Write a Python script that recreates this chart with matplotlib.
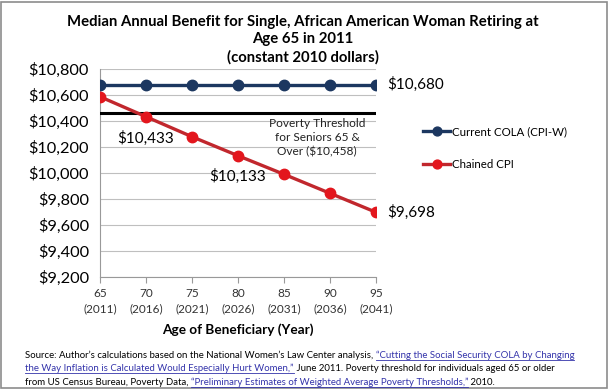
import matplotlib.pyplot as plt
from matplotlib.patches import Rectangle

plt.rcParams['font.family'] = ['Lato', 'DejaVu Sans']

ages = [65, 70, 75, 80, 85, 90, 95]
years = [2011, 2016, 2021, 2026, 2031, 2036, 2041]
current_cola = [10680, 10680, 10680, 10680, 10680, 10680, 10680]
chained_cpi = [10587, 10433, 10279, 10133, 9990, 9844, 9698]
poverty = 10458
yticks = [9200, 9400, 9600, 9800, 10000, 10200, 10400, 10600, 10800]

navy = '#1c3760'
red = '#e3161d'
red_line = '#c1272d'

fig = plt.figure(figsize=(6.09, 3.89), dpi=100)
ax = fig.add_axes([100 / 609, 112 / 389, 276 / 609, 208 / 389])

ax.plot(ages, current_cola, color=navy, lw=2.4, marker='o', ms=7.5,
        mfc=navy, mec=navy, label='Current COLA (CPI-W)', zorder=4)
ax.plot(ages, chained_cpi, color=red_line, lw=2.4, marker='o', ms=7.5,
        mfc=red, mec=red, label='Chained CPI', zorder=4)
ax.plot([ages[0], ages[-1]], [poverty, poverty], color='black', lw=2.2, zorder=3)

ax.set_xlim(ages[0], ages[-1])
ax.set_ylim(yticks[0], yticks[-1])
ax.set_yticks(yticks)
ax.set_yticklabels(['${:,}'.format(v) for v in yticks], fontsize=11.8)
ax.set_xticks(ages)
ax.set_xticklabels(['{}\n({})'.format(a, y) for a, y in zip(ages, years)],
                   fontsize=8.5, color='#333333', linespacing=1.5)
ax.tick_params(axis='y', length=0, pad=8)
ax.tick_params(axis='x', length=4, color='#999999', direction='out', pad=4)
ax.grid(axis='y', color='#bfbfbf', lw=0.8)
ax.set_axisbelow(True)
for s in ['top', 'right']:
    ax.spines[s].set_visible(False)
ax.spines['left'].set_color('#999999')
ax.spines['bottom'].set_color('#999999')
ax.set_xlabel('Age of Beneficiary (Year)', fontsize=9.8, fontweight='bold', labelpad=6)

# value labels
ax.text(ages[-1] + 1.2, current_cola[-1], '${:,}'.format(current_cola[-1]),
        fontsize=11, va='center', ha='left')
ax.text(ages[-1] + 1.2, chained_cpi[-1], '${:,}'.format(chained_cpi[-1]),
        fontsize=11, va='center', ha='left')
ax.text(ages[1], chained_cpi[1] - 165, '${:,}'.format(chained_cpi[1]),
        fontsize=11, va='center', ha='center')
ax.text(ages[3], chained_cpi[3] - 157, '${:,}'.format(chained_cpi[3]),
        fontsize=11, va='center', ha='center')
ax.text(88.6, poverty - 35, 'Poverty Threshold\nfor Seniors 65 &\nOver (${:,})'.format(poverty),
        fontsize=8.6, va='top', ha='center', linespacing=1.35, color='#222222')

leg = ax.legend(loc='center left', bbox_to_anchor=(423 / 609, 1 - 148 / 389),
                bbox_transform=fig.transFigure, frameon=False, fontsize=8.3,
                handlelength=2.35, handletextpad=0.15, labelspacing=1.9,
                borderpad=0, borderaxespad=0, markerscale=0.85)

fig.text(303 / 609, 1 - 15 / 389,
         'Median Annual Benefit for Single, African American Woman Retiring at\n'
         'Age 65 in 2011\n(constant 2010 dollars)',
         fontsize=10.7, fontweight='bold', ha='center', va='top', linespacing=1.3)

# source note with underlined link segments
source_lines = [
    [("Source: Author\u2019s calculations based on the National Women\u2019s Law Center analysis, ", False),
     ("\u201cCutting the Social Security COLA by Changing", True)],
    [("the Way Inflation is Calculated Would Especially Hurt Women,\u201d", True),
     (" June 2011. Poverty threshold for individuals aged 65 or older", False)],
    [("from US Census Bureau, Poverty Data, ", False),
     ("\u201cPreliminary Estimates of Weighted Average Poverty Thresholds,\u201d", True),
     (" 2010.", False)],
]
renderer = fig.canvas.get_renderer()
y0 = 1 - 355 / 389
for i, line in enumerate(source_lines):
    x = 25 / 609
    y = y0 - i * 13.6 / 389
    for txt, link in line:
        t = fig.text(x, y, txt, fontsize=6.9, va='center', ha='left',
                     color='#3333aa' if link else 'black')
        bb = t.get_window_extent(renderer=renderer).transformed(fig.transFigure.inverted())
        if link:
            fig.add_artist(plt.Line2D([bb.x0, bb.x1], [bb.y0, bb.y0], color='#3333aa', lw=0.6))
        x = bb.x1

fig.add_artist(Rectangle((0.002, 0.003), 0.994, 0.992, transform=fig.transFigure,
                         fill=False, edgecolor='#8c8c8c', lw=1.2))

fig.savefig('out.png', dpi=100)
